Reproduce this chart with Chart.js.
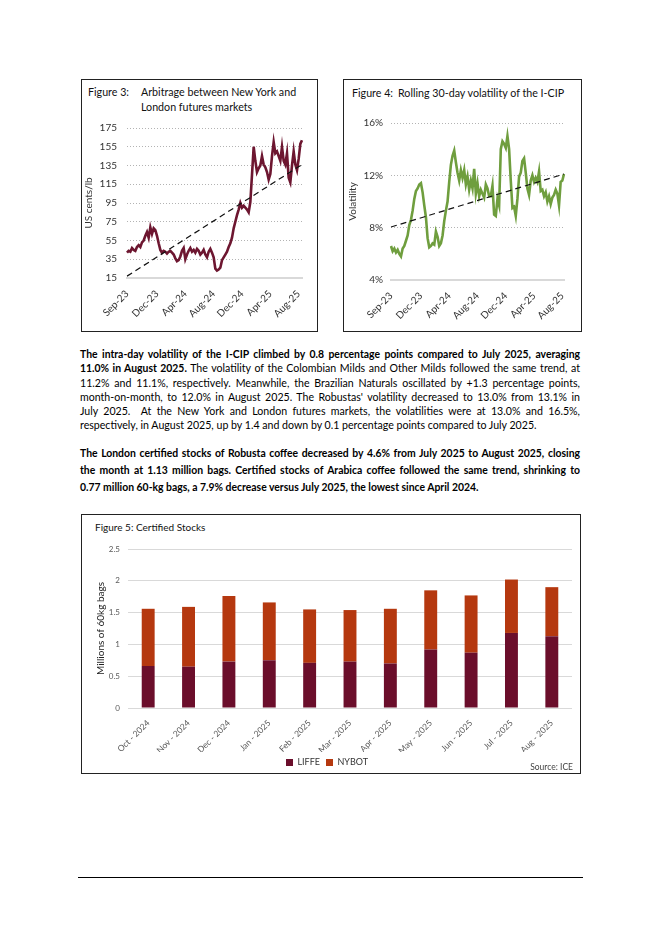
<!DOCTYPE html>
<html><head><meta charset="utf-8">
<script src="https://cdn.jsdelivr.net/npm/chart.js@4.4.1/dist/chart.umd.min.js"></script>
<style>
html,body{margin:0;padding:0;background:#fff;}
body{width:662px;height:936px;position:relative;overflow:hidden;font-family:Lato,'DejaVu Sans',sans-serif;color:#000;}
.box{position:absolute;border:1px solid #222;box-sizing:border-box;}
canvas{position:absolute;}
.t{position:absolute;font-size:10.7px;line-height:15px;white-space:nowrap;color:#111;}
.ln{position:absolute;left:80px;width:500px;font-size:10.6px;white-space:nowrap;text-align:justify;text-align-last:justify;color:#000;}
.ln.last{text-align:left;text-align-last:left;}
.b{font-weight:bold;font-size:10.4px;}
</style></head><body>

<div class="box" style="left:81px;top:79px;width:237px;height:253px;"></div>
<div class="t" style="left:88px;top:84px;">Figure 3:</div>
<div class="t" style="left:141px;top:84px;">Arbitrage between New York and</div>
<div class="t" style="left:141px;top:99px;">London futures markets</div>
<canvas id="c3" width="234" height="218" style="left:82px;top:112px;"></canvas>

<div class="box" style="left:343px;top:79px;width:239px;height:253px;"></div>
<div class="t" style="left:352px;top:85px;">Figure 4:</div>
<div class="t" style="left:398px;top:85px;">Rolling 30-day volatility of the I-CIP</div>
<canvas id="c4" width="237" height="220" style="left:344px;top:109px;"></canvas>

<div class="ln b" style="top:347px;line-height:14px;">The intra-day volatility of the I-CIP climbed by 0.8 percentage points compared to July 2025, averaging</div>
<div class="ln" style="top:361px;line-height:14px;"><span class="b">11.0% in August 2025.</span> The volatility of the Colombian Milds and Other Milds followed the same trend, at</div>
<div class="ln" style="top:375.5px;line-height:14px;">11.2% and 11.1%, respectively. Meanwhile, the Brazilian Naturals oscillated by +1.3 percentage points,</div>
<div class="ln" style="top:389.5px;line-height:14px;">month-on-month, to 12.0% in August 2025. The Robustas' volatility decreased to 13.0% from 13.1% in</div>
<div class="ln" style="top:403.7px;line-height:14px;">July 2025.&nbsp; At the New York and London futures markets, the volatilities were at 13.0% and 16.5%,</div>
<div class="ln last" style="top:418px;line-height:14px;">respectively, in August 2025, up by 1.4 and down by 0.1 percentage points compared to July 2025.</div>

<div class="ln b" style="top:446px;line-height:14px;">The London certified stocks of Robusta coffee decreased by 4.6% from July 2025 to August 2025, closing</div>
<div class="ln b" style="top:463px;line-height:14px;">the month at 1.13 million bags. Certified stocks of Arabica coffee followed the same trend, shrinking to</div>
<div class="ln b last" style="top:479.7px;line-height:14px;">0.77 million 60-kg bags, a 7.9% decrease versus July 2025, the lowest since April 2024.</div>

<div class="box" style="left:81px;top:514px;width:500px;height:260px;"></div>
<div class="t" style="left:95px;top:520px;font-size:10px;">Figure 5: Certified Stocks</div>
<canvas id="c5" width="498" height="241" style="left:82px;top:536px;"></canvas>
<div class="t" style="right:89px;top:760px;font-size:8.5px;color:#444;">Source: ICE</div>

<div style="position:absolute;left:78px;top:877px;width:505px;height:1px;background:#000;"></div>

<script>
// ---- Figure 3: Arbitrage NY-London (US cents/lb), weekly readings Sep-23 .. Aug-25
const fig3Values = [42,44,43,47,45,44,48,50,48,53, 55,60,64,58,69,62,68,66,60,52,
  45,42,44,43,41,43,44,42,40,36, 33,34,38,44,47,35,40,44,47,43,
  45,42,46,44,40,42,45,40,37,43, 46,42,37,25,23,24,26,34,37,40,
  43,48,52,58,68,75,82,88,95,90, 92,90,88,85,96,125,155,140,128,132,
  135,145,136,133,128,120,126,145,160,148, 150,145,140,155,140,136,148,122,117,135,
  150,136,130,142,158,162];
const fig3Trend = [17, 136];

// ---- Figure 4: Rolling 30-day volatility of the I-CIP (%), weekly readings
const fig4Values = [6.6,6.2,6.4,6.1,6.3,6.0,5.8,6.4,6.6,7.0, 7.4,8.2,8.6,9.3,10.2,10.8,11.0,11.3,11.4,10.7,
  9.7,8.8,7.2,6.5,6.6,6.8,6.7,7.7,7.3,6.6, 6.8,7.4,8.5,9.3,10.0,11.5,12.8,13.5,13.9,13.0,
  12.2,11.6,12.4,11.8,12.4,11.3,11.9,10.9,11.6,11.0, 12.5,10.6,11.4,10.4,10.9,10.6,10.3,11.3,11.0,10.4,
  10.4,11.2,9.0,8.9,10.2,9.7,14.0,14.6,14.4,14.1, 15.0,14.0,11.6,9.5,9.6,8.9,10.2,11.9,12.2,13.1,
  13.3,12.2,11.0,10.5,11.6,12.0,11.5,11.8,11.5,12.3, 10.8,10.9,10.4,10.7,10.0,10.4,9.8,10.3,10.5,10.9,
  10.6,9.7,11.5,11.6,12.1];
const fig4Trend = [8.05, 12.1];

const tickLabels = ['Sep-23','Dec-23','Apr-24','Aug-24','Dec-24','Apr-25','Aug-25'];
const tickIdx = [0,18,35,52,69,86,103];

// ---- Figure 5: Certified stocks (millions of 60kg bags)
const months = ['Oct - 2024','Nov - 2024','Dec - 2024','Jan - 2025','Feb - 2025','Mar - 2025','Apr - 2025','May - 2025','Jun - 2025','Jul - 2025','Aug - 2025'];
const liffe = [0.66,0.65,0.73,0.75,0.71,0.73,0.70,0.92,0.87,1.18,1.13];
const nybot = [0.90,0.94,1.03,0.91,0.84,0.81,0.86,0.93,0.90,0.84,0.77];

Chart.defaults.font.family = 'Lato';
Chart.defaults.color = '#333';
Chart.defaults.animation = false;

function sparseLabels(n){ const a = new Array(n).fill(''); tickIdx.forEach((k,i)=>{ if(k<n) a[k]=tickLabels[i]; }); return a; }
function trendArr(n, ends){ const a = new Array(n).fill(null); a[0]=ends[0]; a[n-1]=ends[1]; return a; }

function lineChart(id, values, trend, color, yMin, yMax, yStep, yTitle, fmt, L){
  const n = values.length;
  return new Chart(document.getElementById(id), {
    type:'line',
    data:{ labels: sparseLabels(n), datasets:[
      {data: values, borderColor: color, borderWidth: 2.6, pointRadius: 0, tension: 0, order: 2},
      {data: trendArr(n, trend), borderColor:'#111', borderWidth: 1.2, borderDash:[6,4], pointRadius:0, spanGaps:true, order:1}
    ]},
    options:{ responsive:false, animation:false, events:[],
      layout:{padding:{top:L.top, right:L.right, left:0, bottom:0}},
      plugins:{legend:{display:false}, tooltip:{enabled:false}},
      scales:{
        x:{ grid:{display:false}, border:{display:true, color:'#d9d9d9', width:2},
            ticks:{autoSkip:false, maxRotation:45, minRotation:45, font:{size:10}, color:'#333', padding:2},
            afterFit(s){ s.height = L.xh; } },
        y:{ min:yMin, max:yMax,
            ticks:{stepSize:yStep, font:{size:10}, color:'#333', padding:L.tp, callback:fmt},
            grid:{color:(c)=> (c.tick && c.tick.value===yMin) ? 'rgba(0,0,0,0)' : '#b3b3b3', lineWidth:1, drawTicks:false},
            border:{display:false, dash:[1,2]},
            title:{display:true, text:yTitle, font:{size:10}, color:'#333', padding:{top:L.titlePad, bottom:0}},
            afterFit(s){ s.width = L.yw; } }
      }
    }
  });
}

lineChart('c3', fig3Values, fig3Trend, '#6d1630', 15, 175, 20, 'US cents/lb', v=>v,
  {top:10, right:14, xh:52, yw:45, tp:10, titlePad:1});
lineChart('c4', fig4Values, fig4Trend, '#6f9e3e', 4, 16, 4, 'Volatility', v=>v+'%',
  {top:11, right:17, xh:49, yw:47, tp:8, titlePad:3});

new Chart(document.getElementById('c5'), {
  type:'bar',
  data:{ labels: months, datasets:[
    {label:'LIFFE', data: liffe, backgroundColor:'#6b0e2b'},
    {label:'NYBOT', data: nybot, backgroundColor:'#b5380f'}
  ]},
  options:{ responsive:false, animation:false, events:[],
    layout:{padding:{top:13, right:8, left:0, bottom:0}},
    datasets:{bar:{categoryPercentage:1, barPercentage:0.32}},
    plugins:{ tooltip:{enabled:false},
      legend:{position:'bottom', labels:{boxWidth:7, boxHeight:7, padding:6, font:{size:9}, color:'#333'}} },
    scales:{
      x:{ stacked:true, grid:{display:false}, border:{display:false},
          ticks:{autoSkip:false, maxRotation:45, minRotation:45, font:{size:8.5}, color:'#595959', padding:2},
          afterFit(s){ s.height = 44; } },
      y:{ stacked:true, min:0, max:2.5,
          ticks:{stepSize:0.5, font:{size:8}, color:'#595959', padding:8, callback:(v)=>String(Number(v.toFixed(2)))},
          grid:{color:'#d9d9d9', drawTicks:false}, border:{display:false},
          title:{display:true, text:'Millions of 60kg bags', font:{size:10}, color:'#222', padding:{top:13, bottom:0}},
          afterFit(s){ s.width = 46; } }
    }
  }
});
</script>
</body></html>
